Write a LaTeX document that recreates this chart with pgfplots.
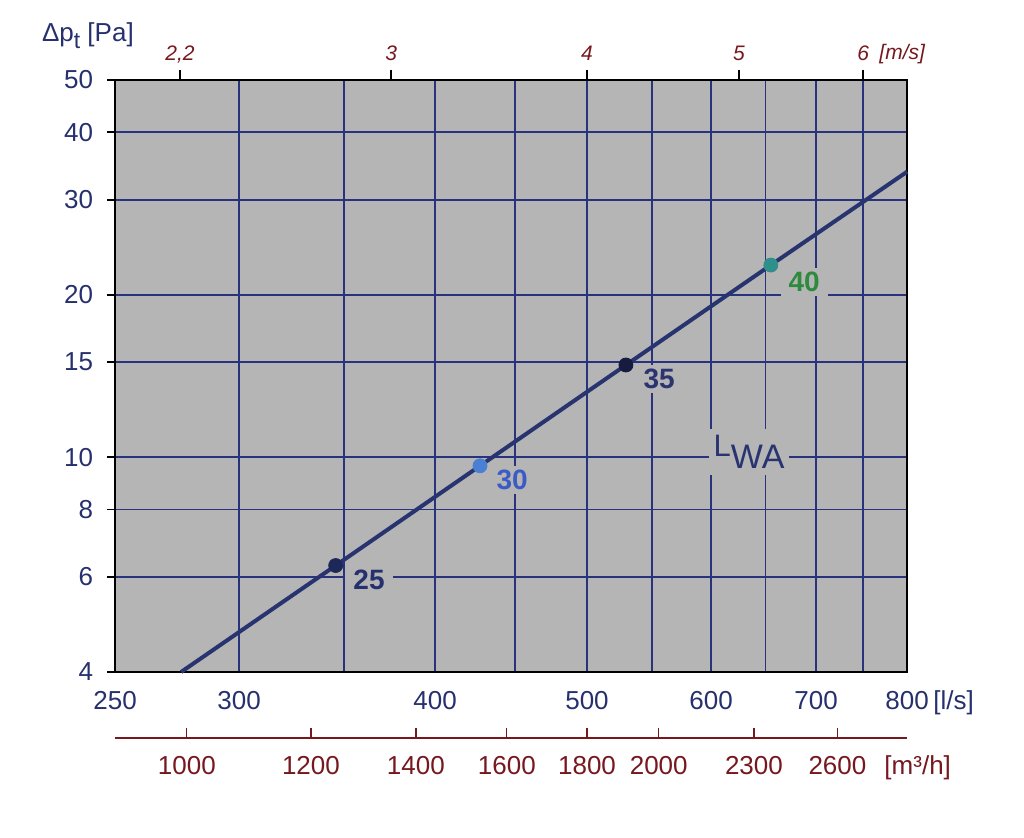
\documentclass[border=0pt]{standalone}
\usepackage{fontspec}
\setmainfont{Liberation Sans}
\usepackage{pgfplots}
\pgfplotsset{compat=1.18}

\definecolor{plotgray}{RGB}{181,181,181}
\definecolor{gridblue}{RGB}{40,50,125}
\definecolor{linenavy}{RGB}{40,52,112}
\definecolor{ticknavy}{RGB}{38,48,110}
\definecolor{darkred}{RGB}{118,24,30}
\definecolor{mk25}{RGB}{30,40,88}
\definecolor{mk30}{RGB}{74,128,212}
\definecolor{mk35}{RGB}{22,27,64}
\definecolor{mk40}{RGB}{47,143,138}
\definecolor{lb25}{RGB}{38,48,110}
\definecolor{lb30}{RGB}{59,92,196}
\definecolor{lb35}{RGB}{42,52,112}
\definecolor{lb40}{RGB}{46,139,62}

\newcommand{\tickfont}{\fontsize{13}{15.5}\selectfont}
\newcommand{\msfont}{\itshape\fontsize{10.5}{12.5}\selectfont}

\begin{document}
\begin{tikzpicture}
\pgfplotsset{every axis/.append style={scale only axis, width=396pt, height=296pt}}

% main axis: pressure vs flow in l/s
\begin{axis}[
    xmode=log, ymode=log,
    xmin=250, xmax=800, ymin=4, ymax=50,
    clip=false,
    axis background/.style={fill=plotgray},
    axis line style={black, line width=0.8pt},
    xtick={250,300,350,400,450,500,550,600,650,700,750,800},
    xticklabels={250,300,,400,,500,,600,,700,,800},
    ytick={4,6,8,10,15,20,30,40,50},
    yticklabels={4,6,8,10,15,20,30,40,50},
    xminorticks=false, yminorticks=false,
    grid=major,
    major grid style={gridblue, line width=0.8pt},
    xtick style={draw=none},
    ytick pos=left,
    ytick align=outside,
    major tick length=4pt,
    ytick style={black, line width=0.8pt},
    xticklabel style={font=\tickfont, text=ticknavy, anchor=base, yshift=-19pt},
    yticklabel style={font=\tickfont, text=ticknavy, xshift=-3.5pt},
]
\path (rel axis cs:-0.1452,-0.2804) rectangle (rel axis cs:1.1477,1.1351);

\addplot[linenavy, line width=2pt] coordinates {
(275.5,4) (345.7,6.30) (427.3,9.64) (529.4,14.82) (655,22.7) (800,33.8)
};
\addplot[only marks, mark=*, mark size=3.5pt, color=mk25] coordinates {(345.7,6.30)};
\addplot[only marks, mark=*, mark size=3.5pt, color=mk30] coordinates {(427.3,9.64)};
\addplot[only marks, mark=*, mark size=3.5pt, color=mk35] coordinates {(529.4,14.82)};
\addplot[only marks, mark=*, mark size=3.5pt, color=mk40] coordinates {(655,22.7)};

\node[fill=plotgray, inner xsep=4pt, inner ysep=2pt, text=lb25, font=\bfseries\fontsize{14}{16}\selectfont] at (rel axis cs:0.3207,0.1554) {25};
\node[fill=plotgray, inner xsep=4pt, inner ysep=2pt, text=lb30, font=\bfseries\fontsize{14}{16}\selectfont] at (rel axis cs:0.5013,0.3243) {30};
\node[fill=plotgray, inner xsep=4pt, inner ysep=2pt, text=lb35, font=\bfseries\fontsize{14}{16}\selectfont] at (rel axis cs:0.6869,0.4949) {35};
\node[fill=plotgray, inner xsep=4pt, inner ysep=2pt, text=lb40, font=\bfseries\fontsize{14}{16}\selectfont] at (rel axis cs:0.8700,0.6588) {40};
\node[fill=plotgray, inner xsep=2.5pt, inner ysep=3pt, text=linenavy] at (rel axis cs:0.8005,0.3716)
    {\fontsize{15.5}{18}\selectfont L\raisebox{-6pt}{\fontsize{17}{19}\selectfont WA}};

\node[anchor=base west, inner sep=0pt, text=ticknavy, font=\tickfont] at (rel axis cs:-0.0927,1.0642)
    {Δp\raisebox{-3.5pt}{\fontsize{11.5}{12}\selectfont t} [Pa]};
\node[anchor=base west, inner sep=0pt, text=ticknavy, font=\tickfont] at (rel axis cs:1.0328,-0.0642) {[l/s]};
\node[anchor=base west, inner sep=0pt, text=darkred, font=\msfont] at (rel axis cs:0.9646,1.0338) {[m/s]};
\node[anchor=base west, inner sep=0pt, text=darkred, font=\tickfont] at (rel axis cs:0.971,-0.174) {[m³/h]};
\end{axis}

% top axis: velocity in m/s
\begin{axis}[
    xmode=log, xmin=2, xmax=6.4, ymin=0, ymax=1,
    axis x line*=top, hide y axis,
    axis line style={black, line width=0.8pt, -},
    xtick={2.2,3,4,5,6},
    xticklabels={2{,}2,3,4,5,6},
    xminorticks=false,
    tick align=outside,
    major tick length=5pt,
    tick style={black, line width=0.8pt},
    xticklabel style={font=\msfont, text=darkred, anchor=base, yshift=4.5pt},
]
\end{axis}

% bottom axis: flow in m3/h
\begin{axis}[
    yshift=-33pt,
    xmode=log, xmin=900, xmax=2880, ymin=0, ymax=1,
    axis x line*=bottom, hide y axis,
    axis line style={darkred, line width=0.8pt, -},
    xtick={1000,1200,1400,1600,1800,2000,2300,2600},
    xticklabels={1000,1200,1400,1600,1800,2000,2300,2600},
    xminorticks=false,
    tick align=inside,
    major tick length=5pt,
    tick style={darkred, line width=0.6pt},
    xticklabel style={font=\tickfont, text=darkred, anchor=base, yshift=-18.5pt},
]
\end{axis}
\end{tikzpicture}
\end{document}
